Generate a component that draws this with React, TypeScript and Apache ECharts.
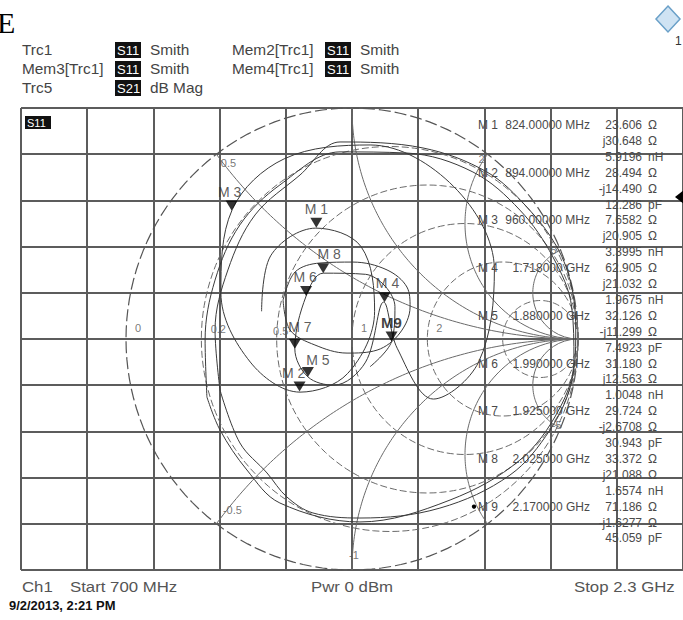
import React, { useEffect, useRef } from "react";
import * as echarts from "echarts";

// ---------- data ----------
const Z0 = 50;
const R_TICKS = [0, 0.2, 0.5, 1, 2, 5];
const X_TICKS = [0.5, 1, 2, 5];

const MARKER_NAMES = ["M 1", "M 2", "M 3", "M 4", "M 5", "M 6", "M 7", "M 8", "M 9"];
const MARKER_FREQ = [
  "824.00000 MHz",
  "894.00000 MHz",
  "960.00000 MHz",
  "1.718000 GHz",
  "1.880000 GHz",
  "1.990000 GHz",
  "1.925000 GHz",
  "2.025000 GHz",
  "2.170000 GHz",
];
const MARKER_R = [23.606, 28.494, 7.6582, 62.905, 32.126, 31.18, 29.724, 33.372, 71.186];
const MARKER_X = [30.648, -14.49, 20.905, 21.032, -11.299, 12.563, -2.6708, 21.088, -1.6277];
const MARKER_LC = [5.9196, 12.286, 3.3995, 1.9675, 7.4923, 1.0048, 30.943, 1.6574, 45.059];
const MARKER_LC_UNIT = ["nH", "pF", "nH", "nH", "pF", "nH", "pF", "nH", "pF"];

// traces, reflection coefficient (re, im)
const TRC1 = [
  [-0.4, 0.12], [-0.36, 0.36], [-0.16, 0.48], [0.04, 0.4], [0.1, 0.12], [-0.02, -0.15],
  [-0.23, -0.23], [-0.45, -0.1], [-0.58, 0.2], [-0.53, 0.56], [-0.3, 0.78], [0.08, 0.84],
  [0.45, 0.66], [0.63, 0.3], [0.56, -0.1], [0.36, -0.26], [0.2, -0.04], [0.14, 0.16],
  [0.06, -0.1], [-0.08, -0.2], [-0.195, -0.164], [-0.253, -0.042], [-0.203, 0.186],
  [-0.127, 0.285], [0.06, 0.28], [0.19, 0.14], [0.175, -0.011], [0.08, -0.12],
];
const MEM2 = [
  [-0.642, -0.251], [-0.65, -0.004], [-0.606, 0.255], [-0.496, 0.494], [-0.319, 0.667],
  [-0.053, 0.81], [0.243, 0.805], [0.535, 0.723], [0.743, 0.558], [0.889, 0.355],
  [0.972, 0.139], [0.982, -0.091], [0.915, -0.307], [0.743, -0.524], [0.434, -0.697],
  [0.035, -0.792], [-0.319, -0.71], [-0.465, -0.567], [-0.584, -0.394], [-0.642, -0.251],
];
const MEM3 = [
  [-0.584, -0.221], [-0.606, 0.039], [-0.549, 0.299], [-0.429, 0.537], [-0.23, 0.71],
  [-0.053, 0.853], [0.314, 0.827], [0.597, 0.723], [0.774, 0.571], [0.907, 0.398],
  [0.972, 0.225], [0.99, 0.026], [0.968, -0.199], [0.876, -0.394], [0.699, -0.589],
  [0.389, -0.732], [0.035, -0.775], [-0.173, -0.753], [-0.288, -0.684], [-0.376, -0.58],
  [-0.496, -0.45], [-0.584, -0.221],
];
const MEM4 = [
  [-0.305, 0.169], [-0.252, 0.29], [-0.142, 0.329], [0.004, 0.333], [0.155, 0.299],
  [0.243, 0.225], [0.257, 0.139], [0.212, 0.026], [0.111, -0.048], [-0.022, -0.061],
  [-0.164, -0.026], [-0.274, 0.039], [-0.305, 0.169],
];

const SMITH_LABELS = ["0", "0.2", "0.5", "1", "2", "0.5", "-0.5", "-1", "2", "5", "-5"];
const SMITH_LABEL_Z = [
  [0, 0], [0.2, 0], [0.5, 0], [1, 0], [2, 0],
  [0, 0.5], [0, -0.5], [0, -1], [0, 2], [0, 5], [0, -5],
];

const HEADER_TRACES = ["Trc1", "Mem2[Trc1]", "Mem3[Trc1]", "Mem4[Trc1]", "Trc5"];
const HEADER_PARAMS = ["S11", "S11", "S11", "S11", "S21"];
const HEADER_FORMATS = ["Smith", "Smith", "Smith", "Smith", "dB Mag"];
const FOOTER_TEXTS = ["Ch1", "Start 700 MHz", "Pwr 0 dBm", "Stop 2.3 GHz"];
const DATE_TEXT = "9/2/2013, 2:21 PM";

// ---------- helpers ----------
function gamma(r: number, x: number): number[] {
  const d = (r + 1) * (r + 1) + x * x;
  return [(r * r + x * x - 1) / d, (2 * x) / d];
}

const FONT = '"Liberation Sans", Arial, sans-serif';
const XI = 0.29292;

export default function App() {
  const ref = useRef<HTMLDivElement>(null);

  useEffect(() => {
    if (!ref.current) return;
    const chart = echarts.init(ref.current, undefined, { renderer: "svg" });

    const series: any[] = [];

    // Smith resistance circles
    R_TICKS.forEach((r) => {
      const c = r / (1 + r);
      const rad = 1 / (1 + r);
      const pts: number[][] = [];
      for (let k = 0; k <= 144; k++) {
        const t = (2 * Math.PI * k) / 144;
        pts.push([c + rad * Math.cos(t), rad * Math.sin(t)]);
      }
      series.push({
        type: "line",
        data: pts,
        showSymbol: false,
        silent: true,
        z: 1,
        lineStyle: r === 0
          ? { color: "#555", width: 1.2, type: [12, 4] }
          : { color: "#6a6a6a", width: 1, type: [7, 3] },
      });
    });
    // Smith reactance arcs
    X_TICKS.forEach((x) => {
      [1, -1].forEach((s) => {
        const pts: number[][] = [];
        for (let k = 0; k < 100; k++) {
          const rr = Math.tan(((k / 100) * Math.PI) / 2);
          pts.push(gamma(rr, s * x));
        }
        pts.push([1, 0]);
        series.push({
          type: "line",
          data: pts,
          showSymbol: false,
          silent: true,
          z: 1,
          lineStyle: { color: "#6a6a6a", width: 1 },
        });
      });
    });

    // traces
    [MEM2, MEM3, MEM4, TRC1].forEach((tr) => {
      series.push({
        type: "line",
        data: tr,
        showSymbol: false,
        smooth: 0.35,
        silent: true,
        z: 3,
        lineStyle: { color: "#3a3a3a", width: 1 },
      });
    });

    // Smith labels
    const smithOffsets = [
      [12, -11], [17, -10], [4, -8], [12, -11], [12, -11],
      [12, 9], [16, -14], [2, -15], [-6, 5], [-7, 0], [-4, -3],
    ];
    series.push({
      type: "scatter",
      silent: true,
      symbolSize: 1,
      z: 4,
      itemStyle: { color: "rgba(0,0,0,0)" },
      data: SMITH_LABELS.map((t, i) => ({
        value: gamma(SMITH_LABEL_Z[i][0], SMITH_LABEL_Z[i][1]),
        name: t,
        label: { offset: smithOffsets[i] },
      })),
      label: {
        show: true,
        position: "inside",
        formatter: (p: any) => p.name,
        fontSize: 11,
        fontFamily: FONT,
        color: "#555",
      },
    });

    // markers
    const markerOffsets = [
      [0, 0], [-6, 0], [-2, 0], [3, 0], [10, 2], [-1, 0], [5, -3], [6, 0], [0, 0],
    ];
    series.push({
      type: "scatter",
      silent: true,
      z: 6,
      symbol: "triangle",
      symbolRotate: 180,
      symbolSize: [12, 10],
      symbolOffset: [0, -5],
      itemStyle: { color: "#000" },
      data: MARKER_R.map((r, i) => ({
        value: gamma(r / Z0, MARKER_X[i] / Z0),
        name: i === 8 ? "M9" : MARKER_NAMES[i],
        label: i === 8
          ? { offset: markerOffsets[i], fontWeight: "bold", fontSize: 15, color: "#111" }
          : { offset: markerOffsets[i] },
      })),
      label: {
        show: true,
        position: "top",
        distance: 2,
        formatter: (p: any) => p.name,
        fontSize: 14,
        fontFamily: FONT,
        color: "#333",
      },
    });

    // ---------- graphic texts ----------
    const g: any[] = [];
    const txt = (text: string, x: number, y: number, opts: any = {}) =>
      g.push({
        type: "text",
        x,
        y,
        z: 100,
        silent: true,
        scaleX: opts.sx || 1,
        style: {
          text,
          fill: opts.fill || "#444",
          fontSize: opts.size || 12,
          fontFamily: opts.family || FONT,
          fontWeight: opts.weight || "normal",
          align: opts.align || "left",
          verticalAlign: "middle",
          textAlign: opts.align || "left",
          textVerticalAlign: "middle",
        },
      });

    txt("E", -3, 22, { size: 30, family: '"Liberation Serif", serif', fill: "#000" });

    // logo
    g.push({
      type: "polygon",
      z: 100,
      silent: true,
      shape: { points: [[668, 6], [680, 19], [668, 32], [656, 19]] },
      style: { fill: "#cfe3f3", stroke: "#6aa0c8", lineWidth: 1.5 },
    });
    txt("1", 675, 41, { size: 12, fill: "#333" });

    // header
    HEADER_TRACES.forEach((t, i) => {
      const col = i < 4 ? i % 2 : 0;
      const row = i < 4 ? Math.floor(i / 2) : 2;
      const x0 = col === 0 ? 22 : 232;
      const y = 50 + row * 19;
      txt(t, x0, y, { size: 14, sx: 1.1 });
      g.push({
        type: "rect",
        z: 100,
        silent: true,
        shape: { x: x0 + 93, y: y - 8, width: 26, height: 16 },
        style: { fill: "#111" },
      });
      txt(HEADER_PARAMS[i], x0 + 95, y, { size: 13, fill: "#fff" });
      txt(HEADER_FORMATS[i], x0 + 128, y, { size: 14, sx: 1.1 });
    });

    // S11 tag inside diagram
    g.push({
      type: "rect",
      z: 100,
      silent: true,
      shape: { x: 25, y: 116, width: 26, height: 13 },
      style: { fill: "#111" },
    });
    txt("S11", 27, 122.5, { size: 11, fill: "#fff" });

    // marker readout
    MARKER_NAMES.forEach((n, i) => {
      const y0 = 125 + 15.9 * 3 * i;
      const y1 = y0 + 15.9;
      const y2 = y1 + 15.9;
      const fill = "#4a4a4a";
      txt(n, 478, y0, { fill });
      txt(MARKER_FREQ[i], 590, y0, { fill, align: "right" });
      txt(MARKER_R[i].toPrecision(5), 642, y0, { fill, align: "right" });
      txt("Ω", 648, y0, { fill });
      const xv = MARKER_X[i];
      txt((xv < 0 ? "-j" : "j") + Math.abs(xv).toPrecision(5), 642, y1, { fill, align: "right" });
      txt("Ω", 648, y1, { fill });
      txt(MARKER_LC[i].toPrecision(5), 642, y2, { fill, align: "right" });
      txt(MARKER_LC_UNIT[i], 648, y2, { fill });
    });
    g.push({
      type: "circle",
      z: 100,
      silent: true,
      shape: { cx: 474, cy: 125 + 15.9 * 24, r: 2.2 },
      style: { fill: "#000" },
    });

    // right-edge pointer
    g.push({
      type: "polygon",
      z: 100,
      silent: true,
      shape: { points: [[684, 190], [675, 197], [684, 204]] },
      style: { fill: "#000" },
    });

    // footer
    const footX = [22, 70, 311, 574];
    FOOTER_TEXTS.forEach((t, i) => txt(t, footX[i], 587, { size: 15, sx: 1.12, fill: "#555" }));
    txt(DATE_TEXT, 9, 606, { size: 12, weight: "bold", fill: "#111", sx: 1.08 });

    chart.setOption({
      animation: false,
      backgroundColor: "#fff",
      grid: { left: 21, top: 108, width: 662, height: 462, show: false },
      xAxis: {
        type: "value",
        min: -5 * XI,
        max: 5 * XI,
        interval: XI,
        axisLine: { show: false },
        axisTick: { show: false },
        axisLabel: { show: false },
        splitLine: { show: true, lineStyle: { color: "#5c5c5c", width: 2 } },
      },
      yAxis: {
        type: "value",
        min: -1,
        max: 1,
        interval: 0.2,
        axisLine: { show: false },
        axisTick: { show: false },
        axisLabel: { show: false },
        splitLine: { show: true, lineStyle: { color: "#5c5c5c", width: 2 } },
      },
      series,
      graphic: g,
    });

    return () => chart.dispose();
  }, []);

  return (
    <div
      ref={ref}
      style={{ position: "fixed", left: 0, top: 0, width: 683, height: 620, background: "#fff" }}
    />
  );
}
